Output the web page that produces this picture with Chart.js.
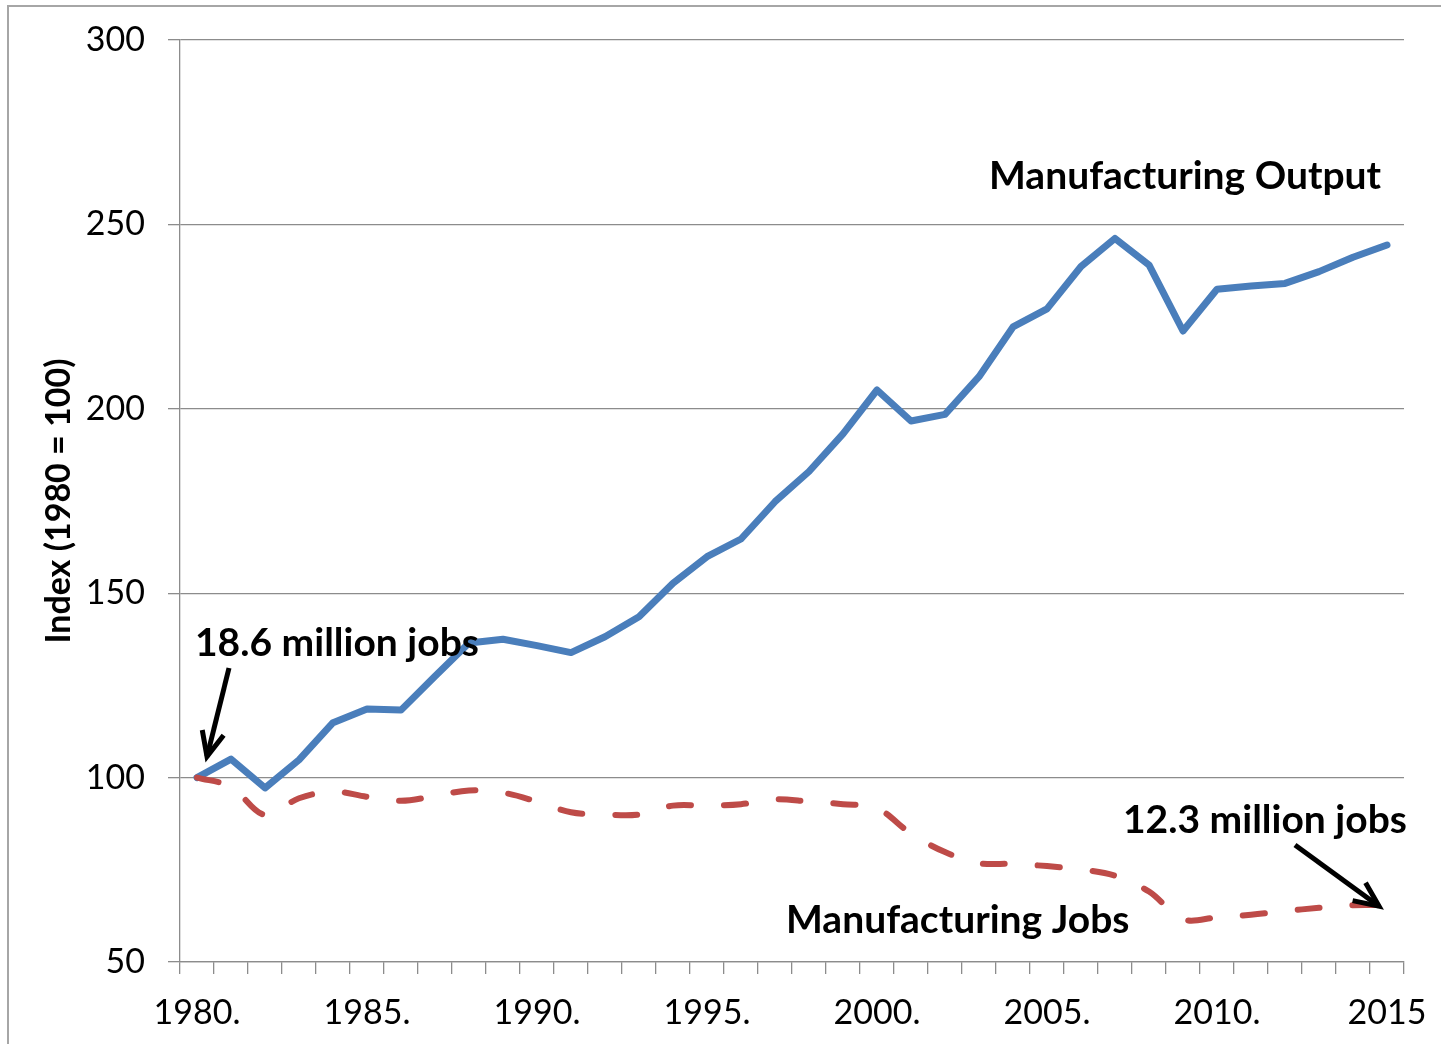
<!DOCTYPE html>
<html>
<head>
<meta charset="utf-8">
<script src="https://cdn.jsdelivr.net/npm/chart.js@4.4.1/dist/chart.umd.min.js"></script>
<style>
  html, body { margin: 0; padding: 0; background: #fff; }
  #wrap { position: relative; width: 1441px; height: 1044px; overflow: hidden; }
  #frame { position: absolute; left: 7px; top: 5px; right: -20px; bottom: -20px;
           border-top: 2px solid #a6a6a6; border-left: 2px solid #a6a6a6; pointer-events: none; }
  canvas { position: absolute; left: 0; top: 0; }
</style>
</head>
<body>
<div id="wrap">
  <canvas id="chart" width="1441" height="1044"></canvas>
  <div id="frame"></div>
</div>
<script>
const years = [1980, 1981, 1982, 1983, 1984, 1985, 1986, 1987, 1988, 1989,
  1990, 1991, 1992, 1993, 1994, 1995, 1996, 1997, 1998, 1999,
  2000, 2001, 2002, 2003, 2004, 2005, 2006, 2007, 2008, 2009,
  2010, 2011, 2012, 2013, 2014, 2015];

const outputIndex = [100, 105.0, 97.2, 104.8, 114.9, 118.6, 118.3, 127.5, 136.5, 137.5,
  135.8, 133.9, 138.2, 143.6, 152.7, 159.9, 164.7, 174.8, 183.0, 193.2,
  205.1, 196.7, 198.5, 208.7, 222.2, 227.1, 238.6, 246.2, 239.0, 221.1,
  232.4, 233.3, 234.0, 237.2, 241.1, 244.4];

const jobsIndex = [100, 97.5, 89.9, 94.4, 96.2, 94.8, 93.7, 95.0, 96.5, 95.9,
  93.5, 90.6, 90.0, 90.0, 92.4, 92.4, 92.8, 94.1, 93.5, 92.8,
  91.7, 84.8, 79.8, 76.8, 76.6, 76.0, 75.1, 73.4, 69.1, 61.6,
  62.1, 62.8, 63.8, 64.7, 65.4, 65.4];

const xTickLabels = ['1980.', '1985.', '1990.', '1995.', '2000.', '2005.', '2010.', '2015'];
const yTicks = [50, 100, 150, 200, 250, 300];

const FONT = 'Lato, "Open Sans", sans-serif';
const GRID = '#8c8c8c';

function arrow(ctx, x1, y1, x2, y2) {
  const ang = Math.atan2(y2 - y1, x2 - x1);
  const len = 27, spread = 0.42;
  ctx.beginPath();
  ctx.moveTo(x1, y1);
  ctx.lineTo(x2, y2);
  ctx.stroke();
  ctx.beginPath();
  ctx.moveTo(x2 - len * Math.cos(ang - spread), y2 - len * Math.sin(ang - spread));
  ctx.lineTo(x2, y2);
  ctx.lineTo(x2 - len * Math.cos(ang + spread), y2 - len * Math.sin(ang + spread));
  ctx.stroke();
}

// text labels and arrows drawn on top of the chart
const notes = {
  id: 'notes',
  afterDraw(chart) {
    const ctx = chart.ctx;
    const x = chart.scales.x, y = chart.scales.y;
    ctx.save();
    ctx.fillStyle = '#000';
    ctx.font = 'bold 39px ' + FONT;
    ctx.textBaseline = 'alphabetic';
    ctx.textAlign = 'left';
    ctx.fillText('Manufacturing Output', 989, 189);
    ctx.fillText('18.6 million jobs', 195, 656);
    ctx.fillText('12.3 million jobs', 1123, 833);
    ctx.fillText('Manufacturing Jobs', 786, 933);

    ctx.strokeStyle = '#000';
    ctx.lineWidth = 5;
    ctx.lineCap = 'butt';
    ctx.lineJoin = 'miter';
    const p0x = x.getPixelForValue(0), p0y = y.getPixelForValue(jobsIndex[0]);
    arrow(ctx, 229, 668, p0x + 10, p0y - 21);
    const last = years.length - 1;
    const p1x = x.getPixelForValue(last), p1y = y.getPixelForValue(jobsIndex[last]);
    arrow(ctx, 1295, 845, p1x - 8, p1y + 1);
    ctx.restore();
  }
};

new Chart(document.getElementById('chart'), {
  type: 'line',
  data: {
    labels: years,
    datasets: [
      {
        label: 'Manufacturing Jobs',
        data: jobsIndex,
        borderColor: '#be4b48',
        borderWidth: 6,
        borderDash: [22, 33],
        borderCapStyle: 'round',
        tension: 0.35,
        pointRadius: 0,
        order: 0
      },
      {
        label: 'Manufacturing Output',
        data: outputIndex,
        borderColor: '#4a7ebb',
        borderWidth: 7,
        borderJoinStyle: 'round',
        borderCapStyle: 'round',
        tension: 0,
        pointRadius: 0,
        order: 1
      }
    ]
  },
  options: {
    responsive: false,
    animation: false,
    devicePixelRatio: 1,
    layout: { padding: { left: 0, right: 37, top: 40, bottom: 0 } },
    plugins: {
      legend: { display: false },
      tooltip: { enabled: false }
    },
    scales: {
      x: {
        type: 'category',
        offset: true,
        afterFit: (scale) => {
          scale.height = 82;
          scale.paddingLeft = 0;
          scale.paddingRight = 0;
        },
        grid: {
          display: true,
          offset: true,
          drawOnChartArea: false,
          drawTicks: true,
          tickLength: 12,
          color: GRID,
          lineWidth: 1.3
        },
        border: { display: true, color: GRID, width: 1.3 },
        ticks: {
          autoSkip: false,
          maxRotation: 0,
          padding: 19,
          color: '#000',
          font: { family: FONT, size: 34 },
          callback: (val, idx) => (idx % 5 === 0 ? xTickLabels[idx / 5] : '')
        }
      },
      y: {
        min: yTicks[0],
        max: yTicks[yTicks.length - 1],
        afterFit: (scale) => {
          scale.width = 180;
          scale.paddingTop = 0;
          scale.paddingBottom = 0;
        },
        afterBuildTicks: (scale) => { scale.ticks = yTicks.map(v => ({ value: v })); },
        grid: {
          color: GRID,
          lineWidth: 1.3,
          drawTicks: true,
          tickLength: 12
        },
        border: { display: true, color: GRID, width: 1.3 },
        ticks: {
          padding: 23,
          color: '#000',
          font: { family: FONT, size: 34 }
        },
        title: {
          display: true,
          text: 'Index (1980 = 100)',
          color: '#000',
          font: { family: FONT, size: 34, weight: 'bold' },
          padding: { top: 39, bottom: 0 }
        }
      }
    }
  },
  plugins: [notes]
});
</script>
</body>
</html>
